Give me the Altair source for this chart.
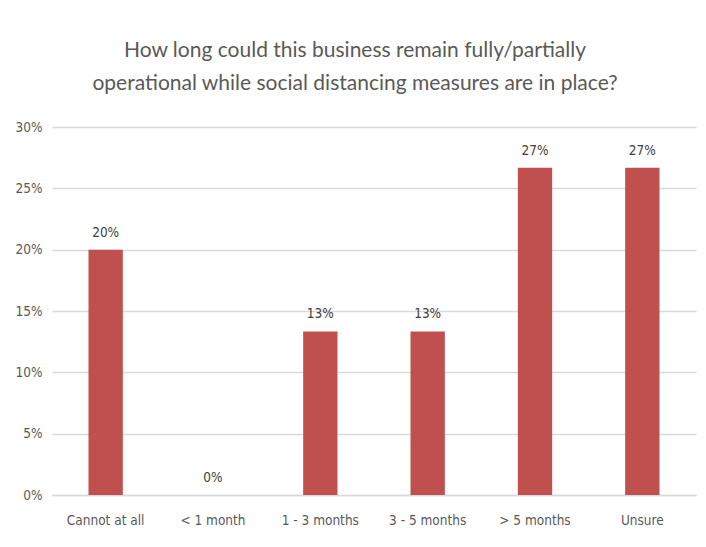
import altair as alt
import pandas as pd

categories = ["Cannot at all", "< 1 month", "1 - 3 months", "3 - 5 months", "> 5 months", "Unsure"]
values = [0.20, 0.0, 0.1333, 0.1333, 0.2667, 0.2667]
labels = ["20%", "0%", "13%", "13%", "27%", "27%"]
y_ticks = [0, 0.05, 0.10, 0.15, 0.20, 0.25, 0.30]

df = pd.DataFrame({"cat": categories, "val": values, "lab": labels})

FONT = "DejaVu Sans Condensed, Liberation Sans Narrow, sans-serif"
TFONT = "Lato, Roboto, sans-serif"
GRAY = "#595959"

x_enc = alt.X("cat:N", sort=categories, title=None,
              scale=alt.Scale(paddingInner=0.68, paddingOuter=0.34),
              axis=alt.Axis(labelAngle=0, labelFontSize=13.5, labelColor=GRAY, labelFont=FONT,
                            ticks=False, domain=True, domainColor="#D9D9D9", domainWidth=1.5,
                            labelPadding=18))
y_enc = alt.Y("val:Q", title=None,
              scale=alt.Scale(domain=[0, 0.30], nice=False),
              axis=alt.Axis(values=y_ticks, format=".0%", labelFontSize=13.5, labelColor=GRAY,
                            labelFont=FONT, ticks=False, domain=False, gridColor="#D9D9D9",
                            gridWidth=1.5, labelPadding=10))

base = alt.Chart(df)
bars = base.mark_bar(color="#C0504D").encode(x=x_enc, y=y_enc)
text = base.mark_text(baseline="bottom", dy=-10, fontSize=13.5, color="#404040", font=FONT).encode(
    x=alt.X("cat:N", sort=categories), y="val:Q", text="lab:N")

chart = alt.layer(bars, text).properties(
    width=644, height=368,
    autosize=alt.AutoSizeParams(type="none"),
    padding={"left": 44, "top": 119, "right": 2, "bottom": 44},
    title=alt.Title(["How long could this business remain fully/partially",
                     "operational while social distancing measures are in place?"],
                    fontSize=21, font=TFONT, color=GRAY, fontWeight="normal",
                    lineHeight=33, offset=26, dx=-19, anchor="middle"),
).configure_view(stroke=None)

chart.save("out.html", embed_options={"renderer": "svg", "actions": False})
